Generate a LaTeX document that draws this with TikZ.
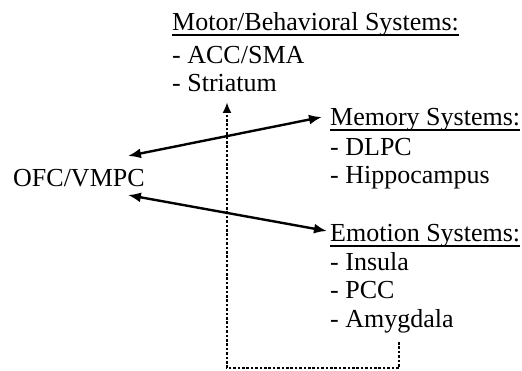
\documentclass[tikz,border=0pt]{standalone}
\usepackage{fontspec}
\setmainfont{Liberation Serif}
\usetikzlibrary{arrows.meta}

\tikzset{
  label/.style={inner sep=0pt, anchor=base west, font=\fontsize{26}{28}\selectfont},
  ulrule/.style={line width=1.5pt},
  biarrow/.style={line width=2.4pt, {Latex[length=13pt,width=10pt]}-{Latex[length=13pt,width=10pt]}},
  dotline/.style={line width=2.8pt, dash pattern=on 2.6pt off 1.8pt, -{Latex[length=11pt,width=9pt]}}
}

\begin{document}
\begin{tikzpicture}[x=1pt, y=-1pt]
  \useasboundingbox (0,0) rectangle (522,371);

  % central region
  \node[label] (ofc) at (13,187) {OFC/VMPC};

  % motor / behavioural block
  \node[label] (motor) at (172,31) {Motor/Behavioral Systems:};
  \node[label] (acc)   at (172,64) {- ACC/SMA};
  \node[label] (stri)  at (172,92) {- Striatum};

  % memory block
  \node[label] (mem)   at (330,126) {Memory Systems:};
  \node[label] (dlpc)  at (330,156) {- DLPC};
  \node[label] (hippo) at (330,184) {- Hippocampus};

  % emotion block
  \node[label] (emo)   at (330,242) {Emotion Systems:};
  \node[label] (ins)   at (330,271) {- Insula};
  \node[label] (pcc)   at (330,299) {- PCC};
  \node[label] (amy)   at (330,327) {- Amygdala};

  % header underlines
  \foreach \h in {motor, mem, emo}
    \draw[ulrule] ([yshift=-4pt]\h.base west) -- ([yshift=-4pt]\h.base east);

  % two-way links
  \draw[biarrow] ([shift={(-17,-31)}]ofc.base east) -- ([shift={(-8,-9)}]mem.base west);
  \draw[biarrow] ([shift={(-17,8)}]ofc.base east) -- ([shift={(-3,-11)}]emo.base west);

  % dotted feedback loop from emotion to motor systems
  \coordinate (dotstart) at (399,342);
  \coordinate (loopcorner) at (227,368);
  \draw[dotline, shorten >=10pt] (dotstart) |- (loopcorner) -- (loopcorner |- stri.base);
\end{tikzpicture}
\end{document}
